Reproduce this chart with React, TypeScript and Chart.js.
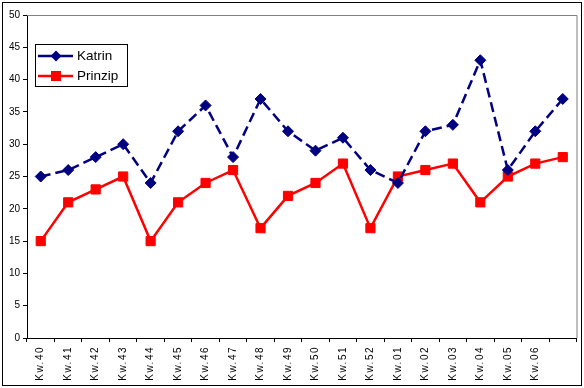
import React, { useEffect, useRef } from 'react';
import { Chart, registerables } from 'chart.js';

Chart.register(...registerables);

const categories = [
  'Kw.40', 'Kw.41', 'Kw.42', 'Kw.43', 'Kw.44', 'Kw.45', 'Kw.46', 'Kw.47', 'Kw.48', 'Kw.49',
  'Kw.50', 'Kw.51', 'Kw.52', 'Kw.01', 'Kw.02', 'Kw.03', 'Kw.04', 'Kw.05', 'Kw.06', '',
];
const katrin = [25, 26, 28, 30, 24, 32, 36, 28, 37, 32, 29, 31, 26, 24, 32, 33, 43, 26, 32, 37];
const prinzip = [15, 21, 23, 25, 15, 21, 24, 26, 17, 22, 24, 27, 17, 25, 26, 27, 21, 25, 27, 28];
const seriesNames = ['Katrin', 'Prinzip'];
const yMin = 0;
const yMax = 50;
const yStep = 5;

const NAVY = '#000080';
const RED = '#FF0000';
const FONT = 'Arial, "Liberation Sans", sans-serif';

const decor = {
  id: 'decor',
  beforeDraw(chart: any) {
    const ctx = chart.ctx;
    ctx.save();
    ctx.fillStyle = '#ffffff';
    ctx.fillRect(0, 0, chart.width, chart.height);
    ctx.restore();
    const sx = chart.scales.x;
    if (sx && !sx.__patched) {
      const orig = sx.drawLabels.bind(sx);
      sx.drawLabels = (area: any) => {
        ctx.save();
        (ctx as any).letterSpacing = '1.5px';
        orig(area);
        ctx.restore();
      };
      sx.__patched = true;
    }
  },
  beforeDatasetsDraw(chart: any) {
    const ctx = chart.ctx;
    const a = chart.chartArea;
    ctx.save();
    ctx.strokeStyle = '#808080';
    ctx.lineWidth = 1;
    ctx.beginPath();
    ctx.moveTo(a.left, a.top + 0.5);
    ctx.lineTo(a.right + 0.5, a.top + 0.5);
    ctx.lineTo(a.right + 0.5, a.bottom);
    ctx.stroke();
    ctx.restore();
  },
  afterDraw(chart: any) {
    const ctx = chart.ctx;
    ctx.save();
    // legend box
    const bx = 35.5, by = 44.5, bw = 92, bh = 42;
    ctx.fillStyle = '#ffffff';
    ctx.fillRect(bx, by, bw, bh);
    ctx.strokeStyle = '#000000';
    ctx.lineWidth = 1;
    ctx.strokeRect(bx, by, bw, bh);
    const rows = [
      { name: seriesNames[0], color: NAVY, y: 56, shape: 'diamond' },
      { name: seriesNames[1], color: RED, y: 76, shape: 'square' },
    ];
    rows.forEach((r) => {
      ctx.strokeStyle = r.color;
      ctx.lineWidth = 2.5;
      ctx.beginPath();
      ctx.moveTo(38, r.y);
      ctx.lineTo(73, r.y);
      ctx.stroke();
      ctx.fillStyle = r.color;
      ctx.beginPath();
      if (r.shape === 'diamond') {
        ctx.moveTo(56, r.y - 5.5);
        ctx.lineTo(61.5, r.y);
        ctx.lineTo(56, r.y + 5.5);
        ctx.lineTo(50.5, r.y);
        ctx.closePath();
      } else {
        ctx.rect(51, r.y - 5, 10, 10);
      }
      ctx.fill();
      ctx.fillStyle = '#000000';
      ctx.font = `13.5px ${FONT}`;
      ctx.textAlign = 'left';
      ctx.textBaseline = 'middle';
      ctx.fillText(r.name, 77, r.y + 0.5);
    });
    // outer border
    ctx.strokeStyle = '#000000';
    ctx.lineWidth = 1;
    ctx.strokeRect(2.5, 2.5, 579, 383);
    ctx.restore();
  },
};

export default function App() {
  const ref = useRef<HTMLCanvasElement>(null);
  useEffect(() => {
    document.body.style.margin = '0';
    const canvas = ref.current;
    if (!canvas) return;
    const chart = new Chart(canvas, {
      type: 'line',
      data: {
        labels: categories,
        datasets: [
          {
            label: seriesNames[0],
            data: katrin,
            borderColor: NAVY,
            backgroundColor: NAVY,
            borderWidth: 2.5,
            borderDash: [10, 5],
            pointStyle: 'rectRot',
            pointRadius: 5.5,
            pointBorderWidth: 1,
            pointBackgroundColor: NAVY,
            pointBorderColor: NAVY,
            tension: 0,
            fill: false,
          },
          {
            label: seriesNames[1],
            data: prinzip,
            borderColor: RED,
            backgroundColor: RED,
            borderWidth: 2.5,
            pointStyle: 'rect',
            pointRadius: 6.5,
            pointBorderWidth: 1,
            pointBackgroundColor: RED,
            pointBorderColor: RED,
            tension: 0,
            fill: false,
          },
        ],
      },
      options: {
        responsive: false,
        devicePixelRatio: 1,
        animation: false,
        events: [],
        layout: { padding: { left: 0, top: 15, right: 5, bottom: 0 } },
        plugins: {
          legend: { display: false },
          tooltip: { enabled: false },
          title: { display: false },
        },
        scales: {
          x: {
            type: 'category',
            offset: true,
            grid: {
              offset: true,
              drawOnChartArea: false,
              drawTicks: true,
              tickLength: 4,
              color: '#000000',
            },
            border: { color: '#000000', width: 1 },
            ticks: {
              autoSkip: false,
              minRotation: 90,
              maxRotation: 90,
              padding: 4,
              color: '#000000',
              font: { family: FONT, size: 10 },
            },
            afterFit: (s: any) => {
              s.height = 50;
              s.paddingLeft = 0;
              s.paddingRight = 0;
            },
          },
          y: {
            min: yMin,
            max: yMax,
            grid: {
              drawOnChartArea: false,
              drawTicks: true,
              tickLength: 4,
              color: '#000000',
            },
            border: { color: '#000000', width: 1 },
            ticks: {
              stepSize: yStep,
              padding: 3,
              color: '#000000',
              font: { family: FONT, size: 10 },
            },
            afterFit: (s: any) => {
              s.width = 27;
              s.paddingTop = 0;
              s.paddingBottom = 0;
            },
          },
        },
      },
      plugins: [decor],
    } as any);
    return () => chart.destroy();
  }, []);
  return (
    <div style={{ position: 'fixed', left: 0, top: 0, width: 584, height: 388, background: '#fff' }}>
      <canvas ref={ref} width={584} height={388} style={{ display: 'block', width: 584, height: 388 }} />
    </div>
  );
}
